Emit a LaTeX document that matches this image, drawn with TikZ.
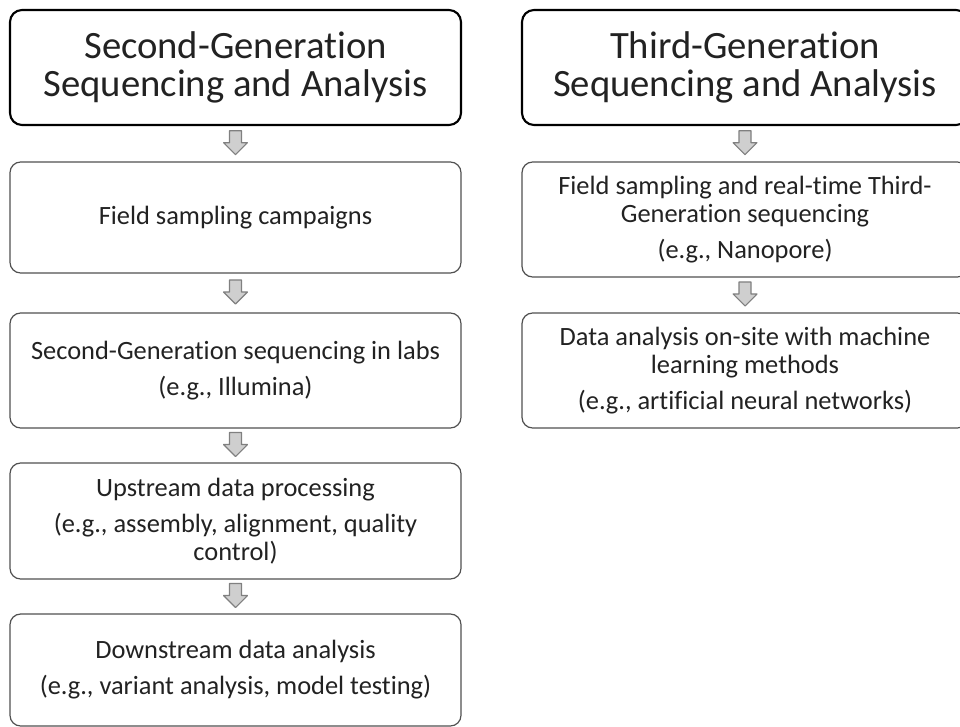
\documentclass[tikz,border=0pt]{standalone}
\usepackage{fontspec}
\setmainfont{Carlito}[Ligatures={NoCommon,NoRare,NoContextual}]
\usetikzlibrary{calc}
\definecolor{txt}{HTML}{222222}
\definecolor{boxline}{HTML}{505050}
\definecolor{arrfill}{HTML}{CFCFCF}
\definecolor{arrline}{HTML}{808080}
\tikzset{
  titlebox/.style={draw=black, line width=1.6pt, rounded corners=9pt, fill=white,
    minimum width=#1, align=center, text=txt, inner sep=0pt,
    font=\fontsize{29}{28}\selectfont},
  stepbox/.style={draw=boxline, line width=0.9pt, rounded corners=8pt, fill=white,
    minimum width=#1, align=center, text=txt, inner sep=0pt,
    font=\fontsize{19.8}{21}\selectfont},
  blockarrow/.style={fill=arrfill, draw=arrline, line width=0.8pt, line join=round}
}
\newcommand{\blockarrow}[2]{%
  \filldraw[blockarrow] ($(#1.south)!0.5!(#2.north)$) ++(-6,-13) -- ++(12,0) -- ++(0,12)
    -- ++(6,0) -- ++(-12,12) -- ++(-12,-12) -- ++(6,0) -- cycle;}
\begin{document}
\begin{tikzpicture}[x=0.75pt, y=-0.75pt]
\useasboundingbox (0,0) rectangle (960,727);
\fill[white] (0,0) rectangle (960,727);
% left column
\node[titlebox=338.25pt, minimum height=86.25pt] (L0) at (235.5,67.5)
  {Second-Generation\\Sequencing and Analysis};
\node[stepbox=338.25pt, minimum height=83.25pt] (L1) at (235.5,217.5)
  {Field sampling campaigns};
\node[stepbox=338.25pt, minimum height=86.25pt] (L2) at (235.5,370.5)
  {Second-Generation sequencing in labs\\[6pt](e.g., Illumina)};
\node[stepbox=338.25pt, minimum height=87pt] (L3) at (235.5,521)
  {Upstream data processing\\[6pt](e.g., assembly, alignment, quality\\control)};
\node[stepbox=338.25pt, minimum height=84pt] (L4) at (235.5,670)
  {Downstream data analysis\\[6pt](e.g., variant analysis, model testing)};
% right column
\node[titlebox=334.5pt, minimum height=86.25pt] (R0) at (745,67.5)
  {Third-Generation\\Sequencing and Analysis};
\node[stepbox=334.5pt, minimum height=86.25pt] (R1) at (745,219.5)
  {Field sampling and real-time Third-\\Generation sequencing\\[6pt](e.g., Nanopore)};
\node[stepbox=334.5pt, minimum height=86.25pt] (R2) at (745,370.5)
  {Data analysis on-site with machine\\learning methods\\[6pt](e.g., artificial neural networks)};
% block arrows
\blockarrow{L0}{L1}
\blockarrow{L1}{L2}
\blockarrow{L2}{L3}
\blockarrow{L3}{L4}
\blockarrow{R0}{R1}
\blockarrow{R1}{R2}
\end{tikzpicture}
\end{document}
